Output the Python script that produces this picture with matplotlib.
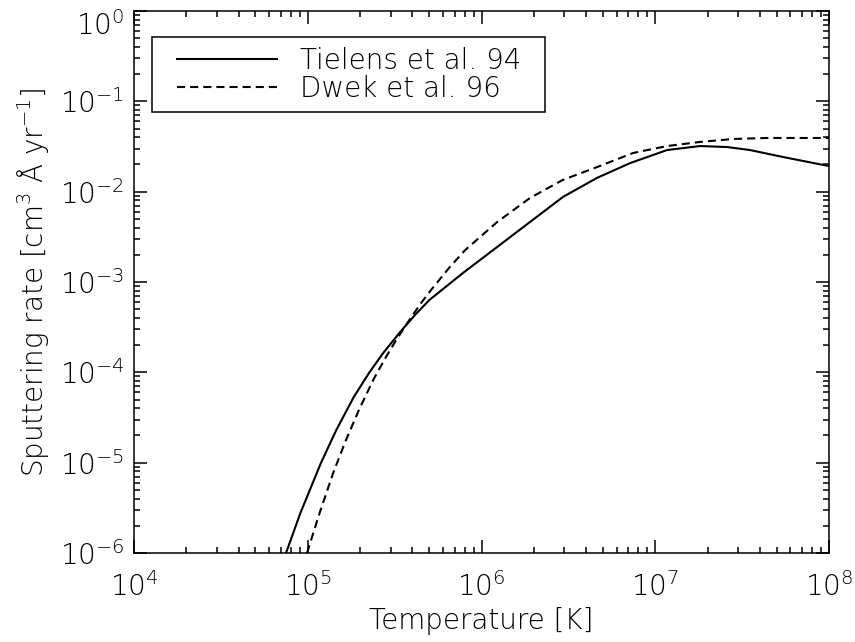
import matplotlib
matplotlib.use("Agg")
from matplotlib import pyplot as plt
from matplotlib.legend_handler import HandlerLine2D
from matplotlib.ticker import LogLocator, LogFormatterMathtext, NullFormatter

# Tielens et al. 94 (solid)
tielens_temp = [7.50e4, 9.07e4, 1.19e5, 1.46e5, 1.84e5, 2.25e5, 2.72e5, 3.40e5,
                4.14e5, 5.01e5, 7.83e5, 1.23e6, 1.90e6, 2.94e6, 4.62e6, 7.16e6,
                1.17e7, 1.81e7, 2.59e7, 3.51e7, 5.43e7, 1.00e8]
tielens_rate = [1.00e-6, 2.77e-6, 9.90e-6, 2.30e-5, 5.33e-5, 9.82e-5, 1.64e-4, 2.79e-4,
                4.31e-4, 6.32e-4, 1.26e-3, 2.44e-3, 4.61e-3, 8.73e-3, 1.42e-2, 2.07e-2,
                2.89e-2, 3.20e-2, 3.12e-2, 2.89e-2, 2.42e-2, 1.92e-2]

# Dwek et al. 96 (dashed)
dwek_temp = [9.90e4, 1.17e5, 1.40e5, 1.66e5, 1.97e5, 2.38e5, 2.82e5, 3.23e5,
             3.84e5, 4.49e5, 5.12e5, 6.58e5, 8.06e5, 1.23e6, 1.90e6, 2.94e6,
             4.62e6, 7.45e6, 1.17e7, 1.81e7, 2.80e7, 4.40e7, 1.00e8]
dwek_rate = [1.00e-6, 2.77e-6, 7.67e-6, 1.78e-5, 3.83e-5, 8.22e-5, 1.48e-4, 2.28e-4,
             3.79e-4, 5.85e-4, 8.15e-4, 1.47e-3, 2.26e-3, 4.61e-3, 8.51e-3, 1.35e-2,
             1.87e-2, 2.68e-2, 3.20e-2, 3.55e-2, 3.83e-2, 3.93e-2, 3.93e-2]

x_limits = (1e4, 1e8)
y_limits = (1e-6, 1e0)

FS = 20

plt.rcParams["font.family"] = ["DejaVu Sans"]
plt.rcParams["font.weight"] = "light"
plt.rcParams["axes.labelweight"] = "light"
plt.rcParams["mathtext.fontset"] = "custom"
plt.rcParams["mathtext.rm"] = "DejaVu Sans:light"
plt.rcParams["mathtext.default"] = "rm"
plt.rcParams["font.size"] = FS

fig = plt.figure(figsize=(8.55, 6.42), dpi=100)
ax = fig.add_axes([134 / 855, 89 / 642, 695 / 855, 542 / 642])

ax.plot(tielens_temp, tielens_rate, color="black", linewidth=1.5,
        label="Tielens et al. 94")
ax.plot(dwek_temp, dwek_rate, color="black", linewidth=1.5,
        linestyle=(0, (3.9, 2.4)), label="Dwek et al. 96")

ax.set_xscale("log")
ax.set_yscale("log")
ax.set_xlim(*x_limits)
ax.set_ylim(*y_limits)

for axis in (ax.xaxis, ax.yaxis):
    axis.set_major_locator(LogLocator(base=10, numticks=20))
    axis.set_minor_locator(LogLocator(base=10, subs=range(2, 10), numticks=20))
    axis.set_major_formatter(LogFormatterMathtext())
    axis.set_minor_formatter(NullFormatter())

ax.tick_params(which="both", direction="in", top=True, right=True, width=1.1,
               labelsize=FS)
ax.tick_params(which="major", length=9.5)
ax.tick_params(which="minor", length=4.5)
ax.tick_params(axis="x", which="major", pad=14)
ax.tick_params(axis="y", which="major", pad=7)
for spine in ax.spines.values():
    spine.set_linewidth(1.1)

ax.set_xlabel("Temperature [K]", fontsize=FS, fontweight="light", labelpad=3)
ax.set_ylabel("Sputtering rate [cm$^3$ Å yr$^{-1}$]", fontsize=FS,
              fontweight="light", labelpad=6)

handler = HandlerLine2D(xpad=0.55)
leg = ax.legend(loc="upper left", bbox_to_anchor=(0.026, 0.825, 0.565, 0.127),
                mode="expand", borderaxespad=0, fancybox=False, framealpha=1,
                edgecolor="black", handlelength=4.15, handletextpad=0.83,
                labelspacing=0.0, borderpad=0.35, fontsize=FS,
                handler_map={ln: handler for ln in ax.get_lines()})
leg.get_frame().set_linewidth(1.1)

# top y label sits just below the frame, as in the original
fig.canvas.draw()
for tick in ax.yaxis.get_major_ticks():
    if abs(tick.get_loc() - 1.0) < 1e-9:
        tick.label1.set_verticalalignment("top")

fig.savefig("out.png", dpi=100)
